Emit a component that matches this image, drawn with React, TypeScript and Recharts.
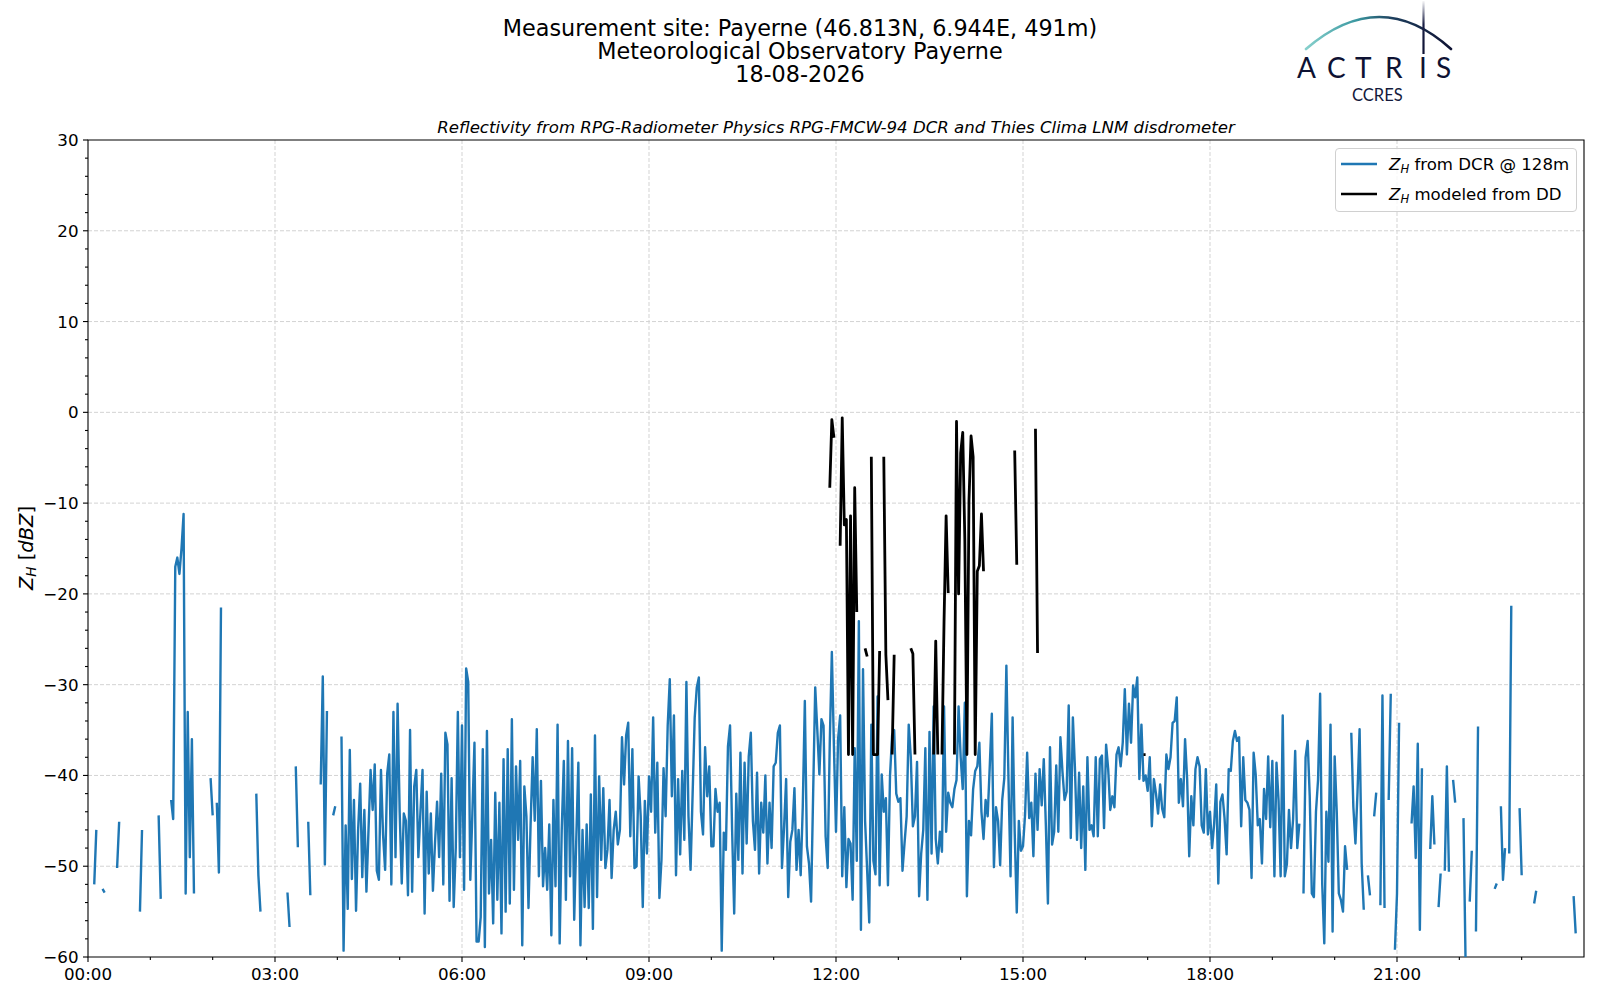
import React from 'react'
import { LineChart, Line, XAxis, YAxis, CartesianGrid, ReferenceArea, Legend } from 'recharts'

const _ = null
const gap = (n: number): null[] => Array(n).fill(null)

// Z_H from the DCR at 128 m, one value every 2 minutes (30 per hour), null = no signal
const dcr00to03 = [
  _, _, _, -52, -46, _, _, -52.5, -52.9, _, _, _, _, _, -50.2, -45.1, _, _, _, _, _, _, _, _, _, -55, -46, _, _, _,
  _, _, _, _, -44.4, -53.6, _, _, _, _, -42.7, -44.8, -17, -16, -17.8, -15, -11.2, -53, -33, -49, -36, -53, _, _, _, _, _, _, _, -40.3,
  -44.4, _, -43, -50.7, -21.5, _, _, _, _, _, _, _, _, _, _, _, _, _, _, _, _, -42, -51, -55, _, _, _, _, _, _,
]
const dcr03to06 = [
  _, _, _, _, _, _, -52.9, -56.7, _, _, -39, -47.9, _, _, _, _, -45.1, -53.2, _, _, _, _, -41, -29.1, -49.8, -32.9, _, _, -44.4, -43.4,
  _, _, -35.7, -59.3, -45.5, -54.7, -37.2, -51.4, -42.7, -54.9, -46, -40.9, -51.2, -43.8, -52.8, -46, -39.4, -43.8, -38.8, -50.5, -51.5, -39.4, -46.5, -50.4, -39.8, -37.7, -52, -33, -49, -32.1,
  -44, -51.9, -44.2, -45, -53.2, -35, -52.8, -41.2, -39.4, -49, -44, -39.4, -55.2, -41.8, -50.8, -44.2, -52.7, -47.5, -42.9, -49, -39.8, -52, -35.3, -36.6, -53.8, -40.3, -54.5, -48, -33, -49,
]
const dcr06to09 = [
  -34.5, -52.6, -28.2, -29.7, -51.5, -44.1, -36.4, -58.3, -58.3, -55.6, -37.1, -58.9, -35.1, -53, -47.1, -56.3, -41.9, -53.7, -43, -57.4, -38.2, -55, -37.1, -54.1, -33.8, -52.6, -39, -47.1, -38.4, -58.7,
  -41.2, -44.5, -54.6, -45.5, -38, -45, -34.9, -51.1, -40.6, -52.2, -48, -52.6, -45.4, -57.6, -42.7, -52.2, -34.4, -58.5, -46, -38.4, -53.7, -36.2, -51.1, -37, -55.9, -47, -38.6, -58.7, -46, -54.5,
  -45.4, -54.6, -42.1, -56.9, -35.6, -53.4, -40.1, -49.3, -41.4, -50.2, -48.2, -42.7, -51.3, -46, -44, -47.6, -46, -35.8, -41, -35.6, -34.2, -46.7, -37.1, -50.2, -50, -40.1, -44.5, -54.5, -42.8, -48.6,
]
const dcr09to12 = [
  -40.1, -44, -33.6, -46.3, -38.6, -53.5, -49.3, -39.2, -44.5, -34.5, -29.4, -42.3, -33.4, -51, -40.4, -48.7, -39.5, -47.1, -29.7, -44.5, -50.4, -42, -33.6, -30.3, -29.2, -44, -46.5, -36.9, -42.3, -39,
  -47.8, -47.8, -41.5, -44, -43, -59.3, -46.3, -48.2, -36.8, -34.5, -46, -55.2, -42, -49.3, -37.5, -50.8, -38.6, -47.5, -37.9, -35.3, -45, -48.2, -39.7, -50.8, -43, -46.3, -40, -49.7, -43, -48,
  -39, -38.6, -35.3, -34.5, -50.2, -45.7, -40.4, -53.4, -47.3, -46, -41.4, -50.4, -46, -51, -43.5, -31.8, -47.8, -49.7, -53.9, -42, -30.3, -35, -39.9, -33.8, -34.5, -46.7, -50.2, -36.4, -26.4, -36.8,
]
const dcr12to15 = [
  -46.2, -36, -33.4, -51.1, -43.5, -52.3, -47, -47.5, -53.7, -37, -49.4, -23, -57, -28.3, -45, -50.5, -56.2, -34.4, -49.4, -50.9, -31.3, -52.1, -39.9, -44, -42.5, -52.1, -40, -35.6, -35, -42,
  -42.9, -42.5, -50.5, -47.4, -44.5, -34.4, -38, -45.6, -44.5, -38.5, -53.3, -48.6, -46, -37, -53.7, -35.2, -48.6, -32.4, -47, -49.7, -46.2, -48.4, -32.4, -46.2, -41.9, -43, -43.5, -41.5, -40.5, -32.4,
  -38, -41.5, -32, -53.3, -45, -46.6, -41.5, -39.5, -39, -36.4, -44, -47, -42.7, -44.5, -39, -33.2, -50.1, -43.5, -45, -49.9, -42.7, -40.3, -27.9, -40.3, -51.1, -33.6, -46.2, -55.1, -45, -48.3,
]
const dcr15to18 = [
  -47.8, -44.3, -37.5, -44.7, -43, -48.9, -39.8, -46, -39.3, -43.3, -38.2, -45.5, -54.1, -36.9, -47.6, -46.2, -38.9, -46.2, -35.8, -39.6, -42.7, -41.8, -32.3, -46.9, -33.6, -39.2, -47.1, -39.7, -48, -41.2,
  -50.4, -38, -46, -45.5, -46.7, -38, -46.7, -38.2, -37.8, -45.8, -36.6, -39.3, -43.8, -42.3, -43.5, -37.7, -36.9, -39, -36.4, -30.5, -37.7, -32.1, -36.4, -30.1, -31.4, -29.2, -40.4, -34.4, -40.6, -40,
  -41.7, -38, -45.6, -40.4, -42, -44.2, -41, -43.7, -44.6, -37.7, -39.3, -38, -34.2, -34, -31.4, -43, -40.4, -43.4, -36, -40.4, -48.9, -42.3, -45.5, -39.3, -38, -39, -45.5, -46.3, -39.3, -46.5,
]
const dcr18to21 = [
  -44, -48, -45.3, -41, -51.9, -42.9, -42.1, -44.7, -48.7, -39.3, -39.5, -36.2, -35.1, -36.2, -35.8, -45.6, -38, -42.7, -43, -43.8, -51.3, -37.5, -39.9, -45.5, -44.8, -49.7, -41.5, -44.8, -37.9, -45.7,
  -38.4, -51.1, -38.6, -42.8, -51.1, -33.4, -51.1, -49.8, -43.8, -48, -44.8, -37.3, -48, -45.3, _, -53, -38, -36.2, -42.3, -53, -53.4, -44, -40.5, -31, -51.9, -58.5, -44, -49.5, -34.4, -57.2,
  -37.9, -44, -53, -53.7, -55, -47.8, -50.4, _, -35.3, -43.5, -47.5, -41.8, -34.9, -49.7, -54.8, _, -51, -53.2, _, -44.5, -41.9, _, -54.3, -31.2, -54.6, _, -42.7, -31, _, -59.2,
]
const dcr21to24 = [
  -53, -34.2, _, _, _, _, _, -45.3, -41.2, -49.1, -36.5, -57, -39.2, _, _, _, -48.1, -42.3, -47.6, _, -54.5, -50.8, _, -50.5, -39, -50.6, _, -40.5, -43, _,
  _, _, -44.7, -60.5, _, -53.9, -48.3, _, -57.2, -34.6, _, _, _, _, _, _, _, -52.5, -51.9, _, -43.4, -51.5, -48, _, -48.6, -21.3, _, _, _, -43.6,
  -51, _, _, _, _, _, -54.1, -52.7, _, _, _, _, _, _, _, _, _, _, _, _, _, _, _, _, _, -53.3, -57.4, _, _, _,
]

// Z_H modeled from the disdrometer, same 2-minute grid, hours 11 to 16
const dd11 = [...gap(27), -8.3, -0.8, -2.8]
const dd12 = [
  _, _, -14.7, -0.6, -12.4, -11.8, -37.7, -11.4, -37.7, -8.3, -22, _, _, _, -26, -26.9, _, -4.9, -37.7, -37.7,
  -37.7, -26.3, _, -4.9, -26.7, -31.7, _, -37.7, -26.7, _,
]
const dd13 = [
  _, _, _, _, _, _, -26, -26.6, -37.7, _, _, _, _, _, _, _, _, -37.7, -25.2, -37.7,
  _, -37.7, -23, -11.4, -19.9, _, _, -37.7, -1, -20,
]
const dd14 = [
  -4.5, -2.2, -14, -37.7, -9.7, -2.6, -4.9, -37.7, -17.5, -16.9, -11.2, -17.5, _, _, _, _, _, _, _, _,
  _, _, _, _, _, _, -4.2, -16.8, _, _,
]
const dd15 = [_, _, _, _, _, _, -1.8, -26.5, ...gap(22)]
const dd16 = [...gap(28), -37.7, -37.7]

const dcr = [...dcr00to03, ...dcr03to06, ...dcr06to09, ...dcr09to12, ...dcr12to15, ...dcr15to18, ...dcr18to21, ...dcr21to24]
const dd = [...gap(330), ...dd11, ...dd12, ...dd13, ...dd14, ...dd15, ...dd16, ...gap(210)]
const times = dcr.map((v, i) => i / 30)

const hourTicks = [0, 1, 2, 3, 4, 5, 6, 7, 8, 9, 10, 11, 12, 13, 14, 15, 16, 17, 18, 19, 20, 21, 22, 23]
const labelledHours = [0, 3, 6, 9, 12, 15, 18, 21]
const dbTicks = [
  -60, -58, -56, -54, -52, -50, -48, -46, -44, -42, -40, -38, -36, -34, -32, -30, -28, -26, -24, -22, -20,
  -18, -16, -14, -12, -10, -8, -6, -4, -2, 0, 2, 4, 6, 8, 10, 12, 14, 16, 18, 20, 22, 24, 26, 28, 30,
]
const gridDb = [-50, -40, -30, -20, -10, 0, 10, 20]
const gridHours = [3, 6, 9, 12, 15, 18, 21]

const titleLines = [
  'Measurement site: Payerne (46.813N, 6.944E, 491m)',
  'Meteorological Observatory Payerne',
  '18-08-2026',
]

const data = times.map((t, i) => ({ t, dcr: dcr[i], dd: dd[i] }))

const FONT = "'DejaVu Sans', 'Liberation Sans', sans-serif"
const LOGO_FONT = "Lato, 'Open Sans', sans-serif"

const fmtHour = (h: number) => `${String(h).padStart(2, '0')}:00`
const fmtDb = (v: number) => (v < 0 ? `\u2212${Math.abs(v)}` : String(v))

const XTick = (props: any) => {
  const { x, y, payload } = props
  const major = labelledHours.includes(payload.value)
  return (
    <g>
      <line x1={x} x2={x} y1={y} y2={y + (major ? 5 : 3)} stroke="#000" strokeWidth={1.1} />
      {major && (
        <text x={x} y={y + 22.5} textAnchor="middle" fontSize={16.7} fontFamily={FONT} fill="#000">
          {fmtHour(payload.value)}
        </text>
      )}
    </g>
  )
}

const YTick = (props: any) => {
  const { x, y, payload } = props
  const major = payload.value % 10 === 0
  return (
    <g>
      <line x1={x - (major ? 5 : 3)} x2={x} y1={y} y2={y} stroke="#000" strokeWidth={1.1} />
      {major && (
        <text x={x - 9.5} y={y} dy="0.36em" textAnchor="end" fontSize={16.7} fontFamily={FONT} fill="#000">
          {fmtDb(payload.value)}
        </text>
      )}
    </g>
  )
}

const legendText: Record<string, string> = {
  dcr: ' from DCR @ 128m',
  dd: ' modeled from DD',
}

const renderLegend = (props: any) => (
  <div
    style={{
      width: 242,
      height: 64,
      boxSizing: 'border-box',
      border: '1px solid #d0d0d0',
      borderRadius: 4,
      background: 'rgba(255,255,255,0.8)',
      fontFamily: FONT,
      fontSize: 16.6,
      color: '#000',
    }}
  >
    {props.payload.map((item: any) => (
      <div key={item.value} style={{ display: 'flex', alignItems: 'center', height: 30 }}>
        <svg width={46} height={30} style={{ flex: 'none' }}>
          <line x1={5} x2={41} y1={15} y2={15} stroke={item.color} strokeWidth={2.6} />
        </svg>
        <span style={{ marginLeft: 7, whiteSpace: 'nowrap' }}>
          <i>Z</i>
          <i style={{ fontSize: '0.7em', position: 'relative', top: '0.3em' }}>H</i>
          {legendText[item.value]}
        </span>
      </div>
    ))}
  </div>
)

export default function App() {
  return (
    <div style={{ position: 'absolute', left: 0, top: 0, width: 1600, height: 1000, background: '#fff' }}>
      <LineChart width={1600} height={1000} data={data} margin={{ top: 140, right: 16, bottom: 13, left: 28 }}>
        <CartesianGrid stroke="#d3d3d3" strokeDasharray="4 2" horizontalValues={gridDb} verticalValues={gridHours} />
        <XAxis
          type="number"
          dataKey="t"
          domain={[0, 24]}
          ticks={hourTicks}
          interval={0}
          tick={XTick}
          tickSize={0}
          tickMargin={0}
          tickLine={false}
          axisLine={false}
          height={30}
          allowDataOverflow
        />
        <YAxis
          type="number"
          domain={[-60, 30]}
          ticks={dbTicks}
          interval={0}
          tick={YTick}
          tickSize={0}
          tickMargin={0}
          tickLine={false}
          axisLine={false}
          width={60}
          allowDataOverflow
        />
        <Line
          name="dcr"
          dataKey="dcr"
          stroke="#1f77b4"
          strokeWidth={2.4}
          strokeLinejoin="round"
          dot={false}
          activeDot={false}
          isAnimationActive={false}
        />
        <Line
          name="dd"
          dataKey="dd"
          stroke="#000000"
          strokeWidth={2.8}
          strokeLinejoin="round"
          dot={false}
          activeDot={false}
          isAnimationActive={false}
        />
        <ReferenceArea x1={0} x2={24} y1={-60} y2={30} fill="none" stroke="#000" strokeWidth={1.1} ifOverflow="visible" />
        <Legend
          layout="horizontal"
          verticalAlign="middle"
          align="center"
          content={renderLegend}
          wrapperStyle={{ top: 148, left: 1335, width: 242, height: 64 }}
        />
      </LineChart>

      <svg width={1600} height={1000} style={{ position: 'absolute', left: 0, top: 0, pointerEvents: 'none' }}>
        <defs>
          <linearGradient id="arc" x1="1306" y1="0" x2="1452" y2="0" gradientUnits="userSpaceOnUse">
            <stop offset="0" stopColor="#86d0cc" />
            <stop offset="0.35" stopColor="#3a97a0" />
            <stop offset="0.6" stopColor="#1d3d5c" />
            <stop offset="1" stopColor="#0e1233" />
          </linearGradient>
          <linearGradient id="mast" x1="0" y1="0" x2="0" y2="54" gradientUnits="userSpaceOnUse">
            <stop offset="0" stopColor="#ffffff" />
            <stop offset="0.45" stopColor="#1a1f45" />
            <stop offset="1" stopColor="#0e1233" />
          </linearGradient>
        </defs>

        <g fontFamily={FONT} fill="#000" textAnchor="middle">
          <text fontSize={22.3}>
            {titleLines.map((line, i) => (
              <tspan key={line} x={800} y={36 + i * 23}>
                {line}
              </tspan>
            ))}
          </text>
          <text x={836} y={132.5} fontSize={16.6} fontStyle="italic">
            Reflectivity from RPG-Radiometer Physics RPG-FMCW-94 DCR and Thies Clima LNM disdrometer
          </text>
          <text transform="translate(32.5,548) rotate(-90)" fontSize={19.5}>
            <tspan fontStyle="italic">Z</tspan>
            <tspan fontStyle="italic" fontSize={13.6} dy={3}>H</tspan>
            <tspan dy={-3}> [</tspan>
            <tspan fontStyle="italic">dBZ</tspan>
            <tspan>]</tspan>
          </text>
        </g>

        <g>
          <path d="M1306 49 Q1380 -15 1451 49" fill="none" stroke="url(#arc)" strokeWidth={2.6} strokeLinecap="round" />
          <line x1={1423.5} x2={1423.5} y1={1} y2={54} stroke="url(#mast)" strokeWidth={2.2} />
          <text fontFamily={LOGO_FONT} fill="#0e1233">
            <tspan x="1297 1327 1355 1385 1419 1436" y={77.5} fontSize={28}>ACTRIS</tspan>
            <tspan x={1352} y={100.5} fontSize={16.5} fill="#141a3c">CCRES</tspan>
          </text>
        </g>
      </svg>
    </div>
  )
}
